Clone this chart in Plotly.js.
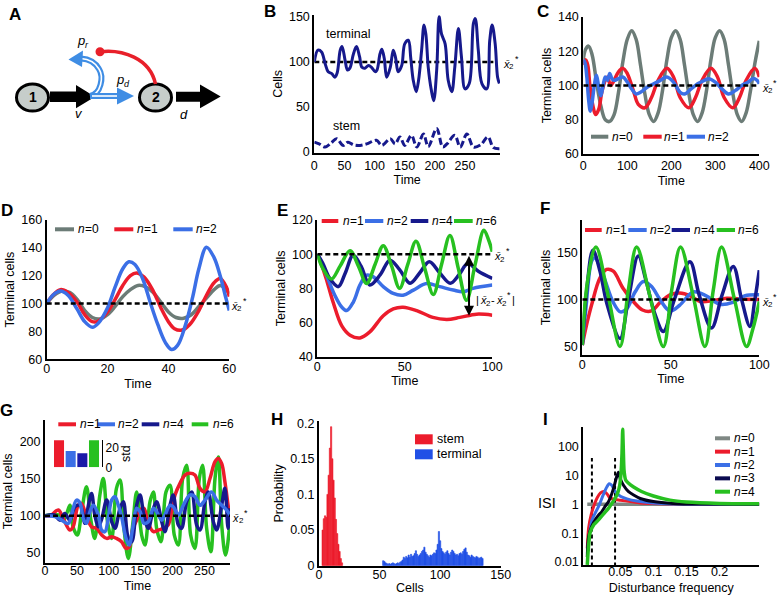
<!DOCTYPE html>
<html><head><meta charset="utf-8">
<script src="https://cdn.plot.ly/plotly-3.0.1.min.js"></script>
<style>html,body{margin:0;padding:0;background:#fff}#chart{width:777px;height:595px}</style>
</head><body><div id="chart"></div>
<script>
// ---------------- DATA ----------------
const target = 100; // steady state x2*
// B: stochastic run
const bTermT = [0,6,12,18,23,29,34,38,43,46,51,55,59,65,70,75,79,84,90,95,101,104,109,112,116,120,126,131,135,139,145,150,156,160,164,169,173,178,182,185,189,194,198,203,207,211,217,222,228,233,239,244,250,257,264,267,272,278,286,291,295,300,304,307];
const bTermV = [100,113,111,98,89,87,83,88,113,117,102,91,93,109,117,106,94,93,96,94,89,91,109,114,104,83,94,113,104,89,96,120,124,104,80,67,80,113,141,131,94,69,57,91,150,131,120,80,67,94,137,106,70,76,143,148,113,76,70,124,141,120,83,76];
const bStemT = [0,8,18,28,37,48,56,65,76,87,103,112,126,134,142,150,161,170,181,189,203,213,220,233,242,253,264,276,288,297,307];
const bStemV = [11,9,5.6,10,14.8,7.4,11,8,7.4,9,13,7.4,14.8,9,16.7,7.4,18.5,5.6,20,6,26,5.6,9,18.5,5.6,20,5.6,8,16.7,5,3.7];
const bRefT = [0,297];
// C
const cT0 = [0,5,12,20,30,40,50,60,70,80,90,100,110,120,130,140,150,160,170,180,190,200,210,220,230,240,250,260,270,280,290,300,310,320,330,340,350,360,370,380,390,400];
const cN0 = [115,121,123,118,102,88,80,79,83,96,114,127,132,127,112,95,83,79,84,97,115,128,132,127,112,95,83,79,84,97,115,128,132,127,112,95,83,79,84,97,113,126];
const cT1 = [0,5,10,15,22,28,35,42,50,55,62,70,80,90,100,115,125,140,155,170,190,205,220,240,255,270,290,305,320,340,355,370,390,400];
const cN1 = [112,115,112,100,88,83,86,96,103,105,100,103,108,110,107,96,89,87,93,103,110,105,93,87,93,103,110,105,93,87,93,103,110,105];
const cT2 = [0,4,8,12,16,20,25,30,35,40,45,50,55,60,65,70,80,90,100,110,120,130,145,160,175,190,205,220,230,245,260,275,285,300,315,330,345,360,375,385,395,400];
const cN2 = [115,113,105,92,85,90,100,106,99,94,100,105,103,107,104,103,104,105,102,98,95,96,99,101,103,105,102,96,95,98,101,103,104,102,98,95,97,100,102,104,103,101];
const cRefT = [0,400];
// D
const dT0 = [0,2.5,5,7.5,10,12.5,15,17.5,20,22.5,25,27.5,30,32.5,35,37.5,40,42.5,45,47.5,50,52.5,55,57,59,60];
const dN0 = [100,106,109,108,103,95,90,89,92,98,105,110,113,112,108,101,94,90,89.5,92,98,104,110,113,110,107];
const dT1 = [0,2,4.5,7,10,12.5,15,17,20,22.5,25,27.5,29.5,32,35,37.5,40,42,44.5,47,50,52.5,55,57,59,60];
const dN1 = [100,106,110,108,101,92,87,87.5,94,103,113,120,122,119,109,97,87,82,81,85,95,106,115,118,112,105];
const dT2 = [0,2,4.5,7,10,12.5,15,17,20,22.5,25,27,29,31.5,34,36.5,39,41,43,45.5,48,50,52.5,55,57,59,60];
const dN2 = [100,106,109,106,96,87,83,86,97,112,125,130,128,118,101,85,72,67,70,84,105,125,140.5,133,120,103,95];
const dRefT = [0,60];
// E
const eT1 = [0,2,5,9,14,18.7,24.4,30,37.7,43.4,49,56.8,66,74,81.5,91,100];
const eN1 = [100,95,86,72,58,52.6,51,54.5,64,68,69,67,63,61.8,63,64.9,64.3];
const eT2 = [0,2,5.3,10,14,16.8,20.6,24.4,28.2,32,37.7,43.4,49,54.9,62.5,70,77.7,83.4,89,100];
const eN2 = [100,96,87.7,76,69,67,72,82,87.7,86.7,81,77,76,79,82.8,81,79,78,80,81.9];
const eT4 = [0,3,7,12,16,20.5,25,30,36,41.5,47,53,58.5,64,70,76,81,86,92,100];
const eN4 = [100,95,86,81,89,99.4,93,82,88,96.5,91,83,89,95.5,89,83,88,94.5,90,85.8];
const eT6 = [0,3,8,13,18.7,23.5,28.2,33,37.7,42.5,47,51.7,56.4,61.3,66.3,71,75.8,80.5,85.3,90.2,95.2,98,100];
const eN6 = [100,92,85.4,93,102,93,82.8,94,105,93,80,94,107.6,92,76.4,94,111,92,73,94,114,108,101.4];
const eRefT = [0,100];
const eGapT = 86.7, eGapLow = 64;
// F
const fT1 = [0,2,5.3,10,13.7,17.5,23,28.8,34,39,44,49.5,55,61,66.5,74,81.5,89,100];
const fN1 = [52,70,94.7,123,131.8,130,112,98,89,88,97,105,107,104,98,99,101.5,100.5,100];
const fT2 = [0,2,5.3,7,11.9,17.5,21.5,25,29.8,34.5,39,43.9,49.5,55,62.7,70,77.8,85,92,100];
const fN2 = [52,90,140.6,144,125,97,87,90,108,119,114,100,88,94,108,104,95,97,104,105];
const fT4 = [0,2.5,6,10,14,21.3,26,31.6,36,41,45.8,52,60.8,66,73,79,85.3,90,94.7,97.5,100];
const fN4 = [52,110,152,130,95,59,100,146,120,85,66.4,100,140,105,70,105,135,100,71.7,100,131];
const fT6 = [0,3,7.7,14.5,21.3,26,30.7,38,45.8,50.5,55.5,62.5,69.3,74,78.7,86,92.8,96.5,100];
const fN6 = [52,120,155.5,105,50.5,110,155.5,105,50.5,110,155.5,105,50.5,110,155.5,100,50.5,70,98];
const fRefT = [0,100];
// G
const gT1 = [0,10,13,21,28.7,39,44,52,57,65,73,81,89,96.7,104.5,112,120,127,132,138,143.7,149,155,162,170,177.6,185.5,193,198.5,203.8,211.6,219.4,227,235,243,250.8,258.6,266.5,271.7,277,282,287,290];
const gN1 = [100,100,103,107.6,96,80.7,85,114,116.6,98.7,85,83,74,69.5,71.7,69.5,65,56,58,83,94,107.6,110,89.7,78.5,80.7,83,87.4,105.4,127.8,143.5,154.7,157,154.7,136.8,132,150,172.6,177,170,145.7,114,96];
const gT2 = [0,15.7,26,36.6,44,49.6,55,60,65,70.5,75.8,83.6,88.8,94,99,104.5,109.7,115,120,127,132,137.4,143.7,149,155,162,170,175,183,188,196,201,209,216.8,227,235,243,250.8,261,269,277,284.7,290];
const gN2 = [100,98.7,94,89.7,110,121,116.6,96,89.7,105.4,114,101,80.7,78.5,96,121,125.6,114,98.7,69.5,60.5,83,110,105.4,89.7,92,110,105.4,94,101,114,112,101,114,127.8,125.6,114,121,132,121,114,107.6,101];
const gT4 = [0,15,23.5,31,39,47,55,62.7,68,73,78,83.6,89,96.7,104.5,109.7,117.6,122.8,130.6,135.8,143.7,149,155,162,170,175,183,188,196,201,209,214,222,230,237.7,243,250.8,256,263.8,269,277,282,287,290];
const gN4 = [100,101,94,103,94,112,114,89.7,114,130,101,85,96,121,92,83,110,118.8,69.5,65,114,127.8,101,83,110,118.8,92,78.5,114,127.8,87.4,83,118.8,132,87.4,80.7,118.8,132,92,80.7,114,136.8,83,110];
const gT6 = [0,21,28.7,34,39,44,50.7,57.5,65,71.6,78,86,91.4,98,104.5,112,117.6,123.8,130.6,138,143.7,151.5,156.7,164.6,170,175,181.8,189.7,196,202.7,209,215.8,222,228.3,235,241.9,247,253.4,260,266.5,271.7,277,283,290];
const gN6 = [100,101,94,103,114,85,74,105.4,139,96,69.5,127.8,150,92,69.5,136.8,148,83,42.6,92,132,74,60.5,118.8,132,83,65,132,141,74,60.5,150,168,74,56,150,168,83,51.6,150,179,87.4,47,92];
const gRefT = [0,290];
const gStdLabels = ['n=1','n=2','n=4','n=6'];
const gStd = [28.5,17.2,14.7,28.5];
// H
const hStemCells = [3,4,5,6,7,8,9,10,11,12,13,14,15,16,17,18,19];
const hStemP = [0.05,0.066,0.07,0.068,0.1,0.127,0.165,0.195,0.15,0.12,0.095,0.065,0.045,0.03,0.02,0.01,0.004];
const hTermCells = [53,54,55,56,57,58,59,60,61,62,63,64,65,66,67,68,69,70,71,72,73,74,75,76,77,78,79,80,81,82,83,84,85,86,87,88,89,90,91,92,93,94,95,96,97,98,99,100,101,102,103,104,105,106,107,108,109,110,111,112,113,114,115,116,117,118,119,120,121,122,123,124,125,126,127,128,129,130,131,132,133,134,135];
const hTermP = [0.007,0.006,0.004,0.003,0.002,0.003,0.002,0.003,0.004,0.003,0.002,0.003,0.004,0.003,0.005,0.006,0.008,0.012,0.01,0.013,0.011,0.015,0.012,0.016,0.013,0.014,0.017,0.021,0.016,0.013,0.015,0.017,0.02,0.022,0.026,0.019,0.016,0.014,0.012,0.015,0.014,0.016,0.018,0.017,0.022,0.03,0.048,0.035,0.024,0.02,0.018,0.016,0.019,0.021,0.017,0.015,0.019,0.022,0.02,0.017,0.015,0.016,0.014,0.017,0.018,0.016,0.02,0.023,0.025,0.019,0.015,0.014,0.012,0.015,0.013,0.012,0.011,0.013,0.012,0.01,0.011,0.012,0.01];
// I
const iF0 = [0,0.26];
const iS0 = [1,1];
const iF1 = [0,0.002,0.006,0.01,0.015,0.02,0.025,0.03,0.034,0.04,0.05,0.065,0.08,0.11,0.15,0.2,0.26];
const iS1 = [0.03,0.15,0.45,0.9,1.7,2.5,2.8,2.3,1.7,1.5,1.4,1.25,1.12,1.05,1.01,1.0,1.0];
const iF2 = [0,0.003,0.007,0.012,0.017,0.024,0.029,0.033,0.037,0.042,0.05,0.06,0.075,0.1,0.13,0.17,0.26];
const iS2 = [0.02,0.08,0.28,0.5,0.83,2.1,3.8,5.2,4.6,2.8,1.9,1.55,1.3,1.12,1.04,1.0,1.0];
const iF3 = [0,0.002,0.007,0.012,0.017,0.022,0.027,0.032,0.036,0.04,0.0445,0.047,0.05,0.055,0.062,0.07,0.08,0.1,0.13,0.17,0.26];
const iS3 = [0.015,0.076,0.18,0.29,0.42,0.56,0.85,1.24,2.0,3.8,9.2,13,7.5,4.5,2.8,2.1,1.6,1.25,1.08,1.02,1.0];
const iF4 = [0,0.0015,0.004,0.01,0.017,0.025,0.032,0.038,0.042,0.046,0.049,0.051,0.0525,0.0535,0.0545,0.0555,0.058,0.062,0.07,0.082,0.1,0.125,0.15,0.2,0.26];
const iS4 = [0.008,0.026,0.1,0.2,0.29,0.48,0.73,1.15,1.6,2.5,4.5,12,60,400,80,16,7,5.5,4.0,2.8,1.95,1.4,1.2,1.08,1.05];
const iDashF = [0.007,0.042];
const iDashTop = 40, iDashBottom = 0.007;

// ---------------- STYLE / LAYOUT HELPERS ----------------
const FONT = 'Liberation Sans, Arial, Helvetica, sans-serif';
const W = 777, H = 595;
const px = v => v / W, py = v => 1 - v / H;
const dx = (l, r) => [l / W, r / W];
const dy = (t, b) => [1 - b / H, 1 - t / H];
const P = s => s.replace(/(-?\d+(?:\.\d+)?),(-?\d+(?:\.\d+)?)/g, (m, a, b) => px(+a).toFixed(5) + ',' + py(+b).toFixed(5));

const GREY = '#6c7c77', RED = '#ec1c2c', BLUE = '#3b6fe6', NAVY = '#16198c', GREEN = '#27c020', BLACK = '#000';
const IBLK = '#03031c', HBLUE = '#2150e6';

function axis(dom, range, tickvals, title, anchor, extra, standoff) {
  return Object.assign({
    domain: dom, range: range, anchor: anchor, tickvals: tickvals,
    showline: true, linecolor: '#000', linewidth: 2, ticks: '', showgrid: false, zeroline: false,
    tickfont: {family: FONT, size: 12.5, color: '#000'},
    title: {text: title, font: {family: FONT, size: 12.5, color: '#000'}, standoff: standoff === undefined ? 4 : standoff},
    automargin: false, fixedrange: true
  }, extra || {});
}

function ln(x, y, xa, ya, color, width, dash, shape, smoothing) {
  return {x: x, y: y, xaxis: xa, yaxis: ya, type: 'scatter', mode: 'lines',
    line: {color: color, width: width, dash: dash || 'solid', shape: shape || 'spline', smoothing: smoothing === undefined ? 1 : smoothing},
    showlegend: false, hoverinfo: 'skip'};
}
const refLine = (t, xa, ya) => ln(t, t.map(() => target), xa, ya, BLACK, 2.5, '5px,3px', 'linear');

// ---------------- TRACES ----------------
const traces = [
  refLine(bRefT, 'x', 'y'),
  ln(bTermT, bTermV, 'x', 'y', NAVY, 3),
  ln(bStemT, bStemV, 'x', 'y', NAVY, 3, '7px,3px'),
  ln(cT0, cN0, 'x2', 'y2', GREY, 3.5),
  ln(cT1, cN1, 'x2', 'y2', RED, 3.5),
  ln(cT2, cN2, 'x2', 'y2', BLUE, 3.5),
  refLine(cRefT, 'x2', 'y2'),
  ln(dT0, dN0, 'x3', 'y3', GREY, 3.5),
  ln(dT1, dN1, 'x3', 'y3', RED, 3.5),
  ln(dT2, dN2, 'x3', 'y3', BLUE, 3.5),
  refLine(dRefT, 'x3', 'y3'),
  ln(eT1, eN1, 'x4', 'y4', RED, 3.5),
  ln(eT2, eN2, 'x4', 'y4', BLUE, 3.5),
  ln(eT4, eN4, 'x4', 'y4', NAVY, 3.5),
  ln(eT6, eN6, 'x4', 'y4', GREEN, 3.5),
  refLine(eRefT, 'x4', 'y4'),
  ln(fT1, fN1, 'x5', 'y5', RED, 3.5),
  ln(fT2, fN2, 'x5', 'y5', BLUE, 3.5),
  ln(fT4, fN4, 'x5', 'y5', NAVY, 3.5),
  ln(fT6, fN6, 'x5', 'y5', GREEN, 3.5),
  refLine(fRefT, 'x5', 'y5'),
  ln(gT6, gN6, 'x6', 'y6', GREEN, 3.5),
  ln(gT1, gN1, 'x6', 'y6', RED, 3.5),
  ln(gT4, gN4, 'x6', 'y6', NAVY, 3.5),
  ln(gT2, gN2, 'x6', 'y6', BLUE, 3.5),
  refLine(gRefT, 'x6', 'y6'),
  {x: gStdLabels, y: gStd, type: 'bar', xaxis: 'x9', yaxis: 'y9', width: 0.86,
   marker: {color: [RED, BLUE, '#1a1aa8', GREEN], line: {width: 0}}, showlegend: false, hoverinfo: 'skip'},
  {x: hStemCells, y: hStemP, type: 'bar', xaxis: 'x7', yaxis: 'y7', width: 1,
   marker: {color: RED, line: {color: RED, width: 0.6}}, showlegend: false, hoverinfo: 'skip'},
  {x: hTermCells, y: hTermP, type: 'bar', xaxis: 'x7', yaxis: 'y7', width: 1,
   marker: {color: HBLUE, line: {color: HBLUE, width: 0.6}}, showlegend: false, hoverinfo: 'skip'},
  ln([iDashF[0], iDashF[0]], [iDashBottom, iDashTop], 'x8', 'y8', BLACK, 2, '4px,3px', 'linear'),
  ln([iDashF[1], iDashF[1]], [iDashBottom, iDashTop], 'x8', 'y8', BLACK, 2, '4px,3px', 'linear'),
  ln(iF0, iS0, 'x8', 'y8', '#7f8884', 3.5, 'solid', 'linear'),
  ln(iF1, iS1, 'x8', 'y8', RED, 3, 'solid', 'spline', 0.6),
  ln(iF2, iS2, 'x8', 'y8', BLUE, 3, 'solid', 'spline', 0.6),
  ln(iF3, iS3, 'x8', 'y8', IBLK, 3, 'solid', 'spline', 0.6),
  ln(iF4, iS4, 'x8', 'y8', GREEN, 3.5, 'solid', 'spline', 0.5)
];

// ---------------- SHAPES & ANNOTATIONS ----------------
const shapes = [];
const annotations = [];
const mctx = document.createElement('canvas').getContext('2d');
function tw(t, size, italic) {
  mctx.font = (italic ? 'italic ' : '') + size + 'px "Liberation Sans", Arial, sans-serif';
  return mctx.measureText(t).width;
}
function fnt(size, italic, bold) {
  return {family: FONT, size: size, color: '#000', style: italic ? 'italic' : 'normal', weight: bold ? 'bold' : 'normal'};
}
function txt(x, y, text, size, opts) {
  const o = opts || {};
  annotations.push({xref: 'paper', yref: 'paper', x: px(x), y: py(y), text: text, showarrow: false,
    font: fnt(size, o.italic, o.bold), xanchor: o.xanchor || 'center', yanchor: 'middle', borderpad: 0});
}
// rich text built from plain-text pieces: {t, s (size), it (italic), dy (px up)}
function rich(x, y, parts, anchor, yref, yval) {
  const GAP = 0.8;
  const widths = parts.map(p => tw(p.t, p.s, p.it) + GAP);
  const total = widths.reduce((a, b) => a + b, 0);
  let cx = anchor === 'center' ? x - total / 2 : x;
  parts.forEach((p, i) => {
    annotations.push({xref: 'paper', yref: yref || 'paper', x: px(cx), y: yref ? yval : py(y), yshift: (p.dy || 0) + (yref ? -2 : 0),
      text: p.t, showarrow: false, xanchor: 'left', yanchor: 'middle', borderpad: 0, font: fnt(p.s, p.it)});
    cx += widths[i];
  });
}
function legendItem(x0, x1, y, color, k, tx) {
  shapes.push({type: 'line', xref: 'paper', yref: 'paper', x0: px(x0), x1: px(x1), y0: py(y), y1: py(y), line: {color: color, width: 4}});
  rich(tx, y, [{t: 'n', s: 12, it: true}, {t: '=' + k, s: 12}], 'left');
}
const XSparts = [{t: 'x\u0304', s: 11, it: true}, {t: '2', s: 8, dy: -3}, {t: '*', s: 9, dy: 5}];

// panel letters
[['A', 15, 14], ['B', 270, 11], ['C', 543, 11], ['D', 7, 210], ['E', 282, 210], ['F', 545, 208], ['G', 6, 410], ['H', 277, 419], ['I', 545, 419]]
  .forEach(([l, x, y]) => txt(x, y, l, 17, {bold: true}));

// ---- Panel A diagram ----
shapes.push({type: 'circle', xref: 'paper', yref: 'paper', x0: px(16.5), x1: px(48.5), y0: py(111), y1: py(84), fillcolor: '#c6cdca', line: {color: '#000', width: 3}});
shapes.push({type: 'circle', xref: 'paper', yref: 'paper', x0: px(139.5), x1: px(171.5), y0: py(111), y1: py(84), fillcolor: '#c6cdca', line: {color: '#000', width: 3}});
shapes.push({type: 'path', xref: 'paper', yref: 'paper', path: P('M 50,91.5 L 76,91.5 L 76,85 L 95,96.7 L 76,108.3 L 76,102 L 50,102 Z'), fillcolor: '#000', line: {width: 0}});
shapes.push({type: 'path', xref: 'paper', yref: 'paper', path: P('M 176,91.7 L 200,91.7 L 200,84.5 L 220.7,96.5 L 200,108.3 L 200,101.7 L 176,101.7 Z'), fillcolor: '#000', line: {width: 0}});
const ABLUE = '#3f8de4';
const curl = 'M 90,96 C 101,94 104,77 99,69 C 95,62 89,59 81,58.5';
shapes.push({type: 'path', xref: 'paper', yref: 'paper', path: P(curl), line: {color: ABLUE, width: 6}});
shapes.push({type: 'path', xref: 'paper', yref: 'paper', path: P(curl), line: {color: '#fff', width: 1.6}});
shapes.push({type: 'path', xref: 'paper', yref: 'paper', path: P('M 90,96 L 120,96'), line: {color: ABLUE, width: 6}});
shapes.push({type: 'path', xref: 'paper', yref: 'paper', path: P('M 92,96 L 119,96'), line: {color: '#fff', width: 1.6}});
shapes.push({type: 'path', xref: 'paper', yref: 'paper', path: P('M 117,87.5 L 134,96 L 117,104.5 Z'), fillcolor: ABLUE, line: {width: 0}});
shapes.push({type: 'path', xref: 'paper', yref: 'paper', path: P('M 83,50.5 L 68.5,59.5 L 82,67 Z'), fillcolor: ABLUE, line: {width: 0}});
shapes.push({type: 'path', xref: 'paper', yref: 'paper', path: P('M 100,51.7 C 122,49 150,58 155.5,84'), line: {color: '#e8202a', width: 3.5}});
shapes.push({type: 'circle', xref: 'paper', yref: 'paper', x0: px(95.5), x1: px(104.5), y0: py(56.2), y1: py(47.2), fillcolor: '#e8202a', line: {width: 0}});
txt(32.5, 97.5, '1', 14, {bold: true});
txt(155.5, 97.5, '2', 14, {bold: true});
txt(79, 113.5, 'v', 13, {italic: true});
txt(184, 115, 'd', 13, {italic: true});
rich(81.7, 41, [{t: 'p', s: 13, it: true}, {t: 'r', s: 9, it: true, dy: -4}], 'center');
rich(121.7, 80, [{t: 'p', s: 13, it: true}, {t: 'd', s: 9, it: true, dy: -4}], 'center');

// ---- B labels ----
txt(348, 33.5, 'terminal', 12.5);
txt(346, 126, 'stem', 12.5);

// steady-state labels
[['y', 502], ['y2', 760.5], ['y3', 230], ['y4', 493], ['y5', 760.5], ['y6', 231.5]].forEach(([ya, x]) => {
  rich(x, 0, XSparts, 'left', ya, target);
});
// E gap arrow
annotations.push({xref: 'x4', yref: 'y4', axref: 'x4', ayref: 'y4', x: eGapT, y: eGapLow, ax: eGapT, ay: target, text: '',
  showarrow: true, arrowhead: 2, startarrowhead: 2, arrowside: 'end+start', arrowwidth: 2, arrowsize: 1, startarrowsize: 1, arrowcolor: '#000'});
rich(475, 300, [{t: '|', s: 11}, {t: 'x\u0304', s: 11, it: true}, {t: '2', s: 8, dy: -3}, {t: '-', s: 11},
  {t: 'x\u0304', s: 11, it: true}, {t: '2', s: 8, dy: -3}, {t: '*', s: 9, dy: 5}, {t: '|', s: 11}], 'left');

// legends
legendItem(591, 608.3, 136.7, GREY, 0, 611);
legendItem(643.3, 661.7, 136.7, RED, 1, 663);
legendItem(686.7, 705, 136.7, BLUE, 2, 707);

legendItem(55, 74, 229.3, GREY, 0, 77);
legendItem(114.3, 133.3, 229.3, RED, 1, 136);
legendItem(173.3, 192.7, 229.3, BLUE, 2, 195);

legendItem(321.7, 338.3, 221, RED, 1, 341.5);
legendItem(365, 383.3, 221, BLUE, 2, 386);
legendItem(410.7, 428.3, 221, NAVY, 4, 430.5);
legendItem(454, 472.7, 221, GREEN, 6, 475);

legendItem(585, 601.7, 230, RED, 1, 605);
legendItem(628.3, 646.7, 230, BLUE, 2, 649);
legendItem(671.7, 690, 230, NAVY, 4, 692.5);
legendItem(716.7, 735, 230, GREEN, 6, 737);

legendItem(58.3, 76, 424.3, RED, 1, 79);
legendItem(97.7, 115, 424.3, BLUE, 2, 116.7);
legendItem(141.7, 159.3, 424.3, NAVY, 4, 161.7);
legendItem(191.7, 208.3, 424.3, GREEN, 6, 211.7);

[['#7f8884', 0], [RED, 1], [BLUE, 2], ['#0a0a50', 3], [GREEN, 4]].forEach(([c, k], i) => {
  legendItem(715, 730, 438.3 + i * 13.35, c, k, 733);
});

// H legend
shapes.push({type: 'rect', xref: 'paper', yref: 'paper', x0: px(415), x1: px(432.7), y0: py(444.3), y1: py(434.3), fillcolor: RED, line: {width: 0}});
shapes.push({type: 'rect', xref: 'paper', yref: 'paper', x0: px(415), x1: px(432.7), y0: py(459.3), y1: py(449.3), fillcolor: HBLUE, line: {width: 0}});
txt(436, 439.3, 'stem', 12.5, {xanchor: 'left'});
txt(436, 454.3, 'terminal', 12.5, {xanchor: 'left'});

// I y label
txt(546.7, 503.3, 'ISI', 14.5);

// ---------------- LAYOUT ----------------
const layout = {
  width: W, height: H, margin: {l: 0, r: 0, t: 0, b: 0},
  paper_bgcolor: '#fff', plot_bgcolor: 'rgba(0,0,0,0)',
  font: {family: FONT, size: 12.5, color: '#000'},
  showlegend: false, hovermode: false, barmode: 'overlay',
  xaxis: axis(dx(314.3, 500), [0, 308], [0, 50, 100, 150, 200, 250], 'Time', 'y'),
  yaxis: axis(dy(15, 152.5), [-0.5, 152], [0, 50, 100, 150], 'Cells', 'x'),
  xaxis2: axis(dx(583.3, 759.3), [0, 400], [0, 100, 200, 300, 400], 'Time', 'y2', {ticklabelstandoff: -1}, 4),
  yaxis2: axis(dy(17, 154), [60, 140], [60, 80, 100, 120, 140], 'Terminal cells', 'x2'),
  xaxis3: axis(dx(46.7, 229.3), [0, 60], [0, 20, 40, 60], 'Time', 'y3', {ticklabelstandoff: -3}, 4),
  yaxis3: axis(dy(220, 359.3), [60, 160], [60, 80, 100, 120, 140, 160], 'Terminal cells', 'x3'),
  xaxis4: axis(dx(317.3, 492.3), [0, 100], [0, 50, 100], 'Time', 'y4', {ticklabelstandoff: -3}, 4),
  yaxis4: axis(dy(220, 356.7), [40, 120], [40, 60, 80, 100, 120], 'Terminal cells', 'x4'),
  xaxis5: axis(dx(582.3, 759.3), [0, 100], [0, 50, 100], 'Time', 'y5', {ticklabelstandoff: -3}, 0),
  yaxis5: axis(dy(220, 355), [41.5, 184], [50, 100, 150], 'Terminal cells', 'x5'),
  xaxis6: axis(dx(45, 230), [0, 290], [0, 50, 100, 150, 200, 250], 'Time', 'y6', {ticklabelstandoff: -5}, 5),
  yaxis6: axis(dy(420, 562.7), [36.8, 228.7], [50, 100, 150, 200], 'Terminal cells', 'x6'),
  xaxis7: axis(dx(319, 500.7), [0, 150], [0, 50, 100, 150], 'Cells', 'y7', {ticklabelstandoff: -4}, 3),
  yaxis7: axis(dy(421, 565.7), [0, 0.203], [0, 0.05, 0.1, 0.15, 0.2], 'Probability', 'x7'),
  xaxis8: axis(dx(583.3, 759.3), [-0.006, 0.26], [0.05, 0.1, 0.15, 0.2], 'Disturbance frequency', 'y8',
    {ticklabelstandoff: -6, ticktext: ['0.05', '0.1', '0.15', '0.2']}, 5),
  yaxis8: axis(dy(426.7, 565), [-2.1, 2.69], [0.01, 0.1, 1, 10, 100], '', 'x8',
    {type: 'log', ticktext: ['0.01', '0.1', '1', '10', '100']}),
  xaxis9: {domain: dx(54, 101.7), range: [-0.43, 3.66], anchor: 'y9', visible: false, fixedrange: true, type: 'category'},
  yaxis9: axis(dy(440, 467.3), [0, 28.7], [0, 20], 'std', 'x9',
    {side: 'right', linewidth: 1.5, tickfont: {family: FONT, size: 12, color: '#000'}}, 2),
  shapes: shapes,
  annotations: annotations
};

Plotly.newPlot('chart', traces, layout, {staticPlot: true, displayModeBar: false});
</script></body></html>
